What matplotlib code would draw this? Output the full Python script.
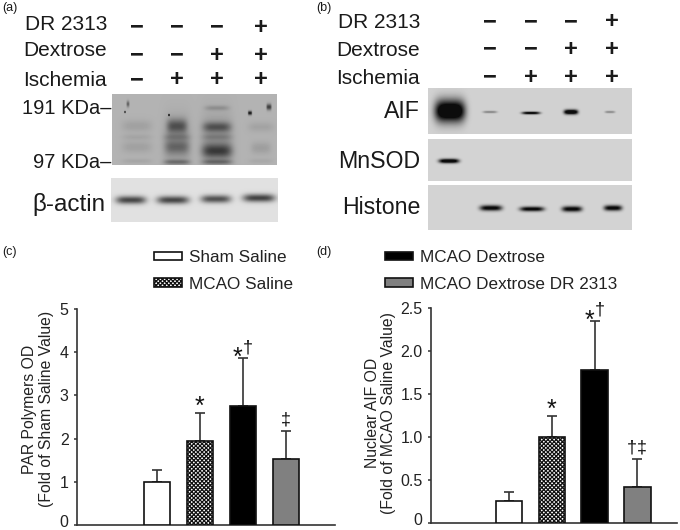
import numpy as np
import matplotlib
matplotlib.use("Agg")
import matplotlib.pyplot as plt
from matplotlib.transforms import ScaledTranslation

plt.rcParams['font.family'] = ['Liberation Sans', 'DejaVu Sans']
plt.rcParams['hatch.linewidth'] = 0.9

# Bar chart values
groups = ["Sham Saline", "MCAO Saline", "MCAO Dextrose", "MCAO Dextrose DR 2313"]
par_mean = [1.0, 1.94, 2.75, 1.52]
par_err = [0.28, 0.66, 1.11, 0.66]
par_marks = ["", "*", "*†", "‡"]
aif_mean = [0.26, 1.0, 1.78, 0.42]
aif_err = [0.095, 0.25, 0.57, 0.325]
aif_marks = ["", "*", "*†", "†‡"]

# +/- rows above the blots
treatments = ["DR 2313", "Dextrose", "Ischemia"]
dr2313 = ["−", "−", "−", "+"]
dextrose = ["−", "−", "+", "+"]
ischemia = ["−", "+", "+", "+"]

# blot bands: centre x, centre y, half width, half height, darkness (pixels)
par_blot = [
    (137, 126, 15, 6, 0.07), (137, 137, 15, 3, 0.05), (137, 147, 15, 6, 0.07), (137, 161, 15, 2.5, 0.05),
    (177, 142, 14, 24, 0.12), (177, 126, 10, 7, 0.32), (177, 137, 13, 3, 0.10), (177, 147, 12, 7, 0.20),
    (177, 162, 13, 2.5, 0.22),
    (217, 140, 16, 26, 0.12), (217, 108, 12, 2.5, 0.12), (217, 127, 14, 5, 0.30), (217, 137, 15, 3, 0.10),
    (217, 151, 15, 7, 0.38), (217, 162, 15, 2.5, 0.22),
    (261, 127, 13, 5, 0.06), (261, 148, 10, 6, 0.08), (261, 161, 12, 2.5, 0.04),
    (128, 104, 1.5, 3, 0.3), (125, 112, 1, 1, 0.5), (169, 115, 1, 1, 0.6),
    (250, 113, 2, 2, 0.6), (269, 107, 2.5, 3, 0.45),
]
actin_blot = [
    (131, 200, 15, 4, 0.6), (173, 200, 16, 4, 0.6),
    (216, 199, 15, 4, 0.56), (259, 198, 16, 4, 0.62),
]
aif_blot = [
    (450, 111, 15, 11, 1.1), (490, 112, 7, 1.2, 0.3), (531, 113, 9, 1.4, 0.85),
    (571, 112, 7, 2.4, 1.05), (610, 112, 5, 1.2, 0.28),
]
mnsod_blot = [(449, 161, 10, 2.2, 0.98)]
histone_blot = [
    (491, 208, 11, 2.8, 0.85), (532, 209, 12, 2.4, 0.85),
    (572, 209, 10, 2.8, 0.85), (613, 208, 9, 2.8, 0.85),
]


def draw_blot(ax, box, shade, bands):
    left, top, right, bottom = box
    x, y = np.meshgrid(np.arange(left, right) + 0.5, np.arange(top, bottom) + 0.5)
    img = np.full(x.shape, shade, dtype=float)
    for cx, cy, hw, hh, dark in bands:
        img -= dark * np.exp(-((x - cx) / hw) ** 4 - ((y - cy) / hh) ** 2)
    ax.imshow(np.clip(img, 0.05, 1), cmap="gray", vmin=0, vmax=1, extent=(left, right, bottom, top),
              interpolation="bilinear", aspect="auto", zorder=1)


def draw_marks(ax, x, top, mark):
    # symbols sit above the error cap, each one placed by itself
    offsets = [0] if len(mark) == 1 else [-5.5, 5]
    for ch, dx in zip(mark, offsets):
        if ch == "*":
            size, dy = 18, (-1 if len(mark) == 1 else -7)
        else:
            size, dy = 13, 6
        ax.annotate(ch, (x, top), xytext=(dx * 0.72, dy * 0.72), textcoords="offset points",
                    ha="center", va="baseline", fontsize=size, color="#111111", zorder=5)


def draw_bars(ax, means, errs, marks, xlim, ymax, ticks, labels, ylabel, label_x, label_y):
    xs = np.arange(len(means))
    styles = [dict(color="white"), dict(color="white", hatch="xxxxxxxx"),
              dict(color="black"), dict(color="#808080")]
    bars = []
    for x, m, style, name in zip(xs, means, styles, groups):
        bars.append(ax.bar(x, m, width=0.62, edgecolor="#111111", linewidth=1.2, label=name, zorder=3, **style)[0])
    ax.errorbar(xs, means, yerr=[[0] * len(errs), errs], fmt="none", ecolor="#333333",
                elinewidth=1.2, capsize=3.5, capthick=1.2, zorder=2)
    for x, m, e, mark in zip(xs, means, errs, marks):
        draw_marks(ax, x, m + e, mark)
    ax.set_xlim(*xlim)
    ax.set_ylim(0, ymax)
    ax.set_xticks([])
    ax.set_yticks(ticks)
    ax.set_yticklabels(labels, fontsize=11.5, color="#222222")
    ax.tick_params(axis="y", length=2.5, width=1.1, pad=3.5, color="#333333")
    # the 0 sits a little above its tick in the original
    zero = ax.get_yticklabels()[0]
    zero.set_transform(zero.get_transform() + ScaledTranslation(0, 4 / 100, fig.dpi_scale_trans))
    for side in ["top", "right"]:
        ax.spines[side].set_visible(False)
    for side in ["left", "bottom"]:
        ax.spines[side].set_color("#333333")
        ax.spines[side].set_linewidth(1.2)
    ax.set_ylabel(ylabel, fontsize=11.3, color="#222222", linespacing=1.15, va="center")
    ax.yaxis.set_label_coords(label_x, label_y)
    return bars


def px_axes(fig, left, top, right, bottom):
    return fig.add_axes([left / 680, 1 - bottom / 530, (right - left) / 680, (bottom - top) / 530])


fig = plt.figure(figsize=(6.8, 5.3), dpi=100)

# overlay in pixel coordinates for the blots and their labels
top_ax = fig.add_axes([0, 0, 1, 1])
top_ax.axis("off")

draw_blot(top_ax, (112, 94, 277, 165), 0.70, par_blot)
draw_blot(top_ax, (111, 178, 278, 222), 0.88, actin_blot)
draw_blot(top_ax, (428, 88, 632, 134), 0.82, aif_blot)
draw_blot(top_ax, (428, 139, 632, 181), 0.83, mnsod_blot)
draw_blot(top_ax, (428, 185, 632, 230), 0.83, histone_blot)
top_ax.set_xlim(0, 680)
top_ax.set_ylim(530, 0)

txt = dict(color="#1a1a1a", va="center")
for label, x, y in zip(["(a)", "(b)", "(c)", "(d)"], [2, 316, 2, 316], [8, 8, 252, 252]):
    top_ax.text(x, y, label, fontsize=9, **txt)

rows = [dr2313, dextrose, ischemia]
for name, y_a, y_b in zip(treatments, [25, 51, 81], [23, 50, 79]):
    top_ax.text(107, y_a, name, fontsize=15, ha="right", **txt)
    top_ax.text(420, y_b, name, fontsize=15, ha="right", **txt)
for row, y_a, y_b in zip(rows, [27, 55, 80], [22, 49, 77]):
    for sign, xa, xb in zip(row, [137, 177, 217, 261], [490, 531, 571, 612]):
        top_ax.text(xa, y_a, sign, fontsize=17, ha="center", fontweight="bold", **txt)
        top_ax.text(xb, y_b, sign, fontsize=17, ha="center", fontweight="bold", **txt)

top_ax.text(111, 109, "191 KDa–", fontsize=14.5, ha="right", **txt)
top_ax.text(111, 162, "97 KDa–", fontsize=14.5, ha="right", **txt)
top_ax.text(105, 205, "β-actin", fontsize=17.5, ha="right", **txt)
top_ax.text(420, 112, "AIF", fontsize=16.7, ha="right", **txt)
top_ax.text(420, 162, "MnSOD", fontsize=16.7, ha="right", **txt)
top_ax.text(420, 208, "Histone", fontsize=16.7, ha="right", **txt)

# bar charts
ax_c = px_axes(fig, 77, 309, 335, 525)
ax_d = px_axes(fig, 431, 308, 677, 523)
bars_c = draw_bars(ax_c, par_mean, par_err, par_marks, (-1.86, 4.14), 5, [0, 1, 2, 3, 4, 5],
                   ["0", "1", "2", "3", "4", "5"], "PAR Polymers OD\n(Fold of Sham Saline Value)", -0.151, 0.537)
bars_d = draw_bars(ax_d, aif_mean, aif_err, aif_marks, (-1.83, 3.93), 2.5, [0, 0.5, 1, 1.5, 2, 2.5],
                   ["0", "0.5", "1.0", "1.5", "2.0", "2.5"], "Nuclear AIF OD\n(Fold of MCAO Saline Value)", -0.205, 0.51)

legend_style = dict(frameon=False, fontsize=12.3, handlelength=1.65, handleheight=0.4, handletextpad=0.4,
                    labelspacing=0.68, borderpad=0, borderaxespad=0, loc="upper left", labelcolor="#222222")
fig.legend(bars_c[:2], groups[:2], bbox_to_anchor=(154 / 680, 1 - 250 / 530), **legend_style)
fig.legend(bars_d[2:], groups[2:], bbox_to_anchor=(385 / 680, 1 - 250 / 530), **legend_style)

fig.savefig("out.png", dpi=100)
